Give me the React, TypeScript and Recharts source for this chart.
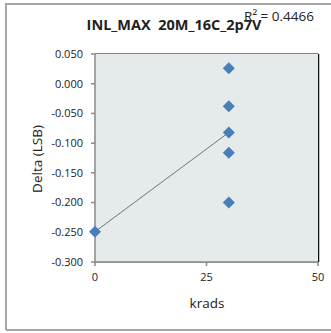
import { ScatterChart, Scatter, Line, XAxis, YAxis, CartesianGrid, ReferenceArea } from 'recharts';

// measured points (krads, delta LSB)
const doseKrads = [0, 30, 30, 30, 30, 30];
const deltaLsb = [-0.249, 0.026, -0.038, -0.082, -0.116, -0.2];

// linear trendline end points
const trendKrads = [0, 30];
const trendDelta = [-0.249, -0.082];

const xTicks = [0, 25, 50];
const yTicks = [-0.3, -0.25, -0.2, -0.15, -0.1, -0.05, 0, 0.05];

const title = 'INL_MAX\u00a0\u00a020M_16C_2p7V';
const rSquared = 'R² = 0.4466';

const points = doseKrads.map((x, i) => ({ x, y: deltaLsb[i] }));
const trend = trendKrads.map((x, i) => ({ x, y: trendDelta[i] }));

const FONT = '"Open Sans", sans-serif';

const Diamond = (props: any) => {
  const { cx, cy } = props;
  const r = 6;
  return (
    <polygon
      points={`${cx},${cy - r} ${cx + r},${cy} ${cx},${cy + r} ${cx - r},${cy}`}
      fill="#4a7ebb"
    />
  );
};

export default function App() {
  return (
    <div style={{ position: 'absolute', left: 0, top: 0, width: 331, height: 333, background: '#fff' }}>
      <svg width={331} height={333} style={{ position: 'absolute', left: 0, top: 0 }}>
        <path d="M6 330 L6 4 L331 4 M6 330 L331 330" fill="none" stroke="#a6a6a6" strokeWidth={2} />
      </svg>
      <div style={{ position: 'absolute', left: 0, top: 0 }}>
        <ScatterChart width={331} height={333} margin={{ top: 54, right: 13, left: 0, bottom: 41 }}>
          <ReferenceArea x1={0} x2={50} y1={-0.3} y2={0.05} fill="#e5eaea" fillOpacity={1} stroke="none" ifOverflow="visible" />
          <CartesianGrid horizontal vertical={false} stroke="#8a8a8a" strokeWidth={1.5} />
          <XAxis
            type="number"
            dataKey="x"
            domain={[0, 50]}
            ticks={xTicks}
            height={30}
            tickSize={4}
            tickMargin={7}
            stroke="#8a8a8a"
            strokeWidth={1.5}
            tick={{ fill: '#222', fontSize: 11, fontFamily: FONT }}
          />
          <YAxis
            type="number"
            dataKey="y"
            domain={[-0.3, 0.05]}
            ticks={yTicks}
            tickFormatter={(v: number) => v.toFixed(3)}
            width={95}
            tickSize={4}
            tickMargin={8}
            stroke="#8a8a8a"
            strokeWidth={1.5}
            tick={{ fill: '#222', fontSize: 11, fontFamily: FONT }}
          />
          <Line
            data={trend}
            dataKey="y"
            type="linear"
            stroke="#555"
            strokeWidth={0.8}
            dot={false}
            isAnimationActive={false}
            legendType="none"
          />
          <Scatter data={points} shape={<Diamond />} isAnimationActive={false} />
          <text x={174} y={30} textAnchor="middle" fontSize={14.5} fontWeight="bold" fill="#222" fontFamily={FONT}>
            {title}
          </text>
          <text x={279} y={21} textAnchor="middle" fontSize={13.5} fill="#222" fontFamily={FONT}>
            {rSquared}
          </text>
          <text x={207} y={308} textAnchor="middle" fontSize={13.5} fill="#222" fontFamily={FONT}>
            krads
          </text>
          <text
            x={42}
            y={159}
            textAnchor="middle"
            fontSize={13.5}
            fill="#222"
            fontFamily={FONT}
            transform="rotate(-90 42 159)"
          >
            Delta (LSB)
          </text>
          <line x1={95} y1={54.5} x2={318.5} y2={54.5} stroke="#111" strokeWidth={1.5} />
          <line x1={318.5} y1={54} x2={318.5} y2={262} stroke="#111" strokeWidth={1.5} />
        </ScatterChart>
      </div>
    </div>
  );
}
